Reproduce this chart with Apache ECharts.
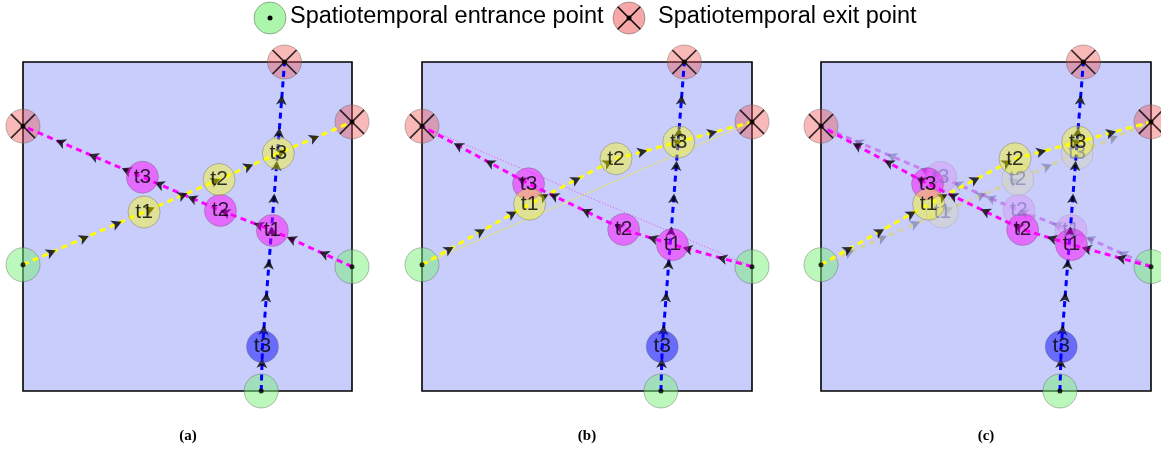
<!DOCTYPE html>
<html><head><meta charset="utf-8">
<script src="https://cdn.jsdelivr.net/npm/echarts@6/dist/echarts.min.js"></script>
<style>html,body{margin:0;padding:0;background:#fff}#c{width:1161px;height:452px}</style>
</head><body><div id="c"></div>
<script>
// ---------- data ----------
const captions = ['(a)', '(b)', '(c)'];
const pointLabels = ['t1', 't2', 't3'];
const legendLabels = ['Spatiotemporal entrance point', 'Spatiotemporal exit point'];
// entrance / exit points (box coordinates 0..100, y up)
const entranceLeft = [0, 38.4];
const entranceRight = [100, 37.8];
const entranceBottom = [72.4, 0];
const exitLeft = [0, 80.5];
const exitRight = [100, 81.8];
const exitTop = [79.5, 100];
// observed positions t1..t3, panel (a)
const yellowA = [[36.8, 54.4], [59.6, 64.3], [77.6, 72.2]];
const magentaA = [[75.8, 48.8], [60.0, 54.9], [36.3, 65.0]];
// adjusted positions t1..t3, panels (b) and (c)
const yellowBC = [[32.6, 56.8], [58.8, 70.6], [77.8, 75.7]];
const magentaBC = [[75.9, 44.5], [61.1, 49.1], [32.3, 63.0]];
// blue object at t3
const blueT3 = [72.8, 13.5];

// ---------- layout / style ----------
const gridBoxes = [[23, 62, 329, 329], [422, 62, 330, 329], [821, 62, 330, 329]];
const FONT = '"Liberation Sans", Arial, sans-serif';
const COL = {
  yellow: { line: '#ffff00', fill: 'rgba(255,255,0,0.5)' },
  magenta: { line: '#ff00ff', fill: 'rgba(255,0,255,0.6)' },
  blue: { line: '#0000ff', fill: 'rgba(0,0,255,0.6)' }
};
const GHOST = {
  yellow: { line: '#d2d2a6', fill: 'rgba(212,212,205,0.75)' },
  magenta: { line: '#c384f2', fill: 'rgba(214,160,250,0.7)' }
};
const DASH = [6, 4.5];
const XPATH = 'path://M47.5,0 L52.5,0 L52.5,47.5 L100,47.5 L100,52.5 L52.5,52.5 L52.5,100 L47.5,100 L47.5,52.5 L0,52.5 L0,47.5 L47.5,47.5 Z';

function arrowsAlong(path, n, gi) {
  const sx = gridBoxes[gi][2] / 100, sy = gridBoxes[gi][3] / 100;
  const seg = []; let total = 0;
  for (let i = 0; i < path.length - 1; i++) {
    const dx = path[i + 1][0] - path[i][0], dy = path[i + 1][1] - path[i][1];
    const L = Math.hypot(dx * sx, dy * sy);
    seg.push({ a: path[i], dx, dy, L, s: total }); total += L;
  }
  const out = [];
  for (let k = 1; k < n; k++) {
    const d = total * k / n;
    const s = seg.find(g => d >= g.s && d <= g.s + g.L) || seg[seg.length - 1];
    const f = (d - s.s) / s.L;
    out.push({ value: [s.a[0] + s.dx * f, s.a[1] + s.dy * f],
      symbolRotate: Math.atan2(s.dy * sy, s.dx * sx) * 180 / Math.PI - 90 });
  }
  return out;
}

const grids = [], xAxes = [], yAxes = [], series = [];
function ax(gi) { return { xAxisIndex: gi, yAxisIndex: gi }; }

function lineSeries(gi, data, color, width, type, z) {
  series.push(Object.assign({ type: 'line', data, symbol: 'none', showSymbol: false, clip: false, silent: true,
    animation: false, z, lineStyle: { color, width, type, cap: 'butt' } }, ax(gi)));
}
function arrowSeries(gi, data, color, z) {
  series.push(Object.assign({ type: 'scatter', data, symbol: 'arrow', symbolSize: [8, 10], clip: false, silent: true,
    animation: false, z, itemStyle: { color } }, ax(gi)));
}
function circleSeries(gi, pts, labels, fill, z, labelColor, border) {
  series.push(Object.assign({ type: 'scatter', clip: false, silent: true, animation: false, z,
    data: pts.map((p, i) => ({ value: p, name: labels[i] })), symbol: 'circle', symbolSize: 32,
    itemStyle: { color: fill, borderColor: border || 'rgba(110,110,110,0.55)', borderWidth: 1 } }, ax(gi)));
  series.push(Object.assign({ type: 'scatter', clip: false, silent: true, animation: false, z: z + 10,
    data: pts.map((p, i) => ({ value: p, name: labels[i] })), symbol: 'circle', symbolSize: 1,
    itemStyle: { color: 'rgba(0,0,0,0)' },
    label: { show: true, position: 'inside', formatter: '{b}', color: labelColor, fontSize: 21, fontFamily: FONT } }, ax(gi)));
}

for (let gi = 0; gi < 3; gi++) {
  const b = gridBoxes[gi];
  grids.push({ left: b[0], top: b[1], width: b[2], height: b[3], show: true,
    backgroundColor: '#c9cdfb', borderColor: '#000', borderWidth: 1.6 });
  xAxes.push({ type: 'value', gridIndex: gi, min: 0, max: 100, show: false });
  yAxes.push({ type: 'value', gridIndex: gi, min: 0, max: 100, show: false });

  const yel = gi === 0 ? yellowA : yellowBC;
  const mag = gi === 0 ? magentaA : magentaBC;
  const yPath = [entranceLeft, ...yel, exitRight];
  const mPath = [entranceRight, ...mag, exitLeft];
  const bPath = [entranceBottom, blueT3, exitTop];

  // entrance / exit circles
  series.push(Object.assign({ type: 'scatter', clip: false, silent: true, animation: false, z: 2,
    data: [entranceLeft, entranceRight, entranceBottom], symbolSize: 34,
    itemStyle: { color: 'rgba(120,240,120,0.62)', borderColor: 'rgba(90,90,90,0.5)', borderWidth: 1 } }, ax(gi)));
  series.push(Object.assign({ type: 'scatter', clip: false, silent: true, animation: false, z: 2,
    data: [exitLeft, exitRight, exitTop], symbolSize: 34,
    itemStyle: { color: 'rgba(240,80,80,0.5)', borderColor: 'rgba(90,90,90,0.5)', borderWidth: 1 } }, ax(gi)));

  if (gi === 1) {
    lineSeries(gi, [entranceLeft, exitRight], 'rgba(235,235,70,0.9)', 0.8, 'solid', 3);
    lineSeries(gi, [entranceRight, exitLeft], 'rgba(255,0,255,0.85)', 0.8, [1, 2], 3);
  }
  if (gi === 2) {
    const gy = [entranceLeft, ...yellowA, exitRight];
    const gm = [entranceRight, ...magentaA, exitLeft];
    lineSeries(gi, gy, GHOST.yellow.line, 3, DASH, 3);
    lineSeries(gi, gm, GHOST.magenta.line, 3, DASH, 3);
    arrowSeries(gi, arrowsAlong(gy, 10, gi), 'rgba(95,95,160,0.6)', 4);
    arrowSeries(gi, arrowsAlong(gm, 10, gi), 'rgba(95,95,160,0.6)', 4);
    circleSeries(gi, magentaA, pointLabels, GHOST.magenta.fill, 5, 'rgba(120,120,185,0.85)', 'rgba(150,150,170,0.4)');
    circleSeries(gi, yellowA, pointLabels, GHOST.yellow.fill, 5, 'rgba(120,125,175,0.85)', 'rgba(150,150,170,0.4)');
  }

  lineSeries(gi, yPath, COL.yellow.line, 3, DASH, 6);
  lineSeries(gi, mPath, COL.magenta.line, 3, DASH, 6);
  lineSeries(gi, bPath, COL.blue.line, 3, DASH, 6);
  arrowSeries(gi, arrowsAlong(yPath, 10, gi), '#000', 7);
  arrowSeries(gi, arrowsAlong(mPath, 10, gi), '#000', 7);
  arrowSeries(gi, arrowsAlong(bPath, 10, gi), '#000', 7);

  circleSeries(gi, mag, pointLabels, COL.magenta.fill, 8, '#000');
  circleSeries(gi, yel, pointLabels, COL.yellow.fill, 9, '#000');
  circleSeries(gi, [blueT3], ['t3'], COL.blue.fill, 9, '#000');

  // marks on entrance / exit points
  series.push(Object.assign({ type: 'scatter', clip: false, silent: true, animation: false, z: 30,
    data: [exitLeft, exitRight, exitTop], symbol: XPATH, symbolSize: 34, symbolRotate: 45,
    itemStyle: { color: '#000' } }, ax(gi)));
  series.push(Object.assign({ type: 'scatter', clip: false, silent: true, animation: false, z: 31,
    data: [entranceLeft, entranceRight, entranceBottom, exitLeft, exitRight, exitTop], symbolSize: 5,
    itemStyle: { color: '#000' } }, ax(gi)));
}

const graphic = [
  { type: 'circle', shape: { cx: 270, cy: 18, r: 16 }, style: { fill: 'rgba(120,240,120,0.62)', stroke: 'rgba(90,90,90,0.5)', lineWidth: 1 } },
  { type: 'circle', shape: { cx: 270, cy: 18, r: 2.5 }, style: { fill: '#000' } },
  { type: 'text', left: 290, top: 5, style: { text: legendLabels[0], fontSize: 23.5, fontFamily: FONT, fill: '#000' } },
  { type: 'circle', shape: { cx: 629, cy: 18, r: 16 }, style: { fill: 'rgba(240,80,80,0.5)', stroke: 'rgba(90,90,90,0.5)', lineWidth: 1 } },
  { type: 'line', shape: { x1: 617.7, y1: 6.7, x2: 640.3, y2: 29.3 }, style: { stroke: '#000', lineWidth: 1.5 } },
  { type: 'line', shape: { x1: 640.3, y1: 6.7, x2: 617.7, y2: 29.3 }, style: { stroke: '#000', lineWidth: 1.5 } },
  { type: 'circle', shape: { cx: 629, cy: 18, r: 2.5 }, style: { fill: '#000' } },
  { type: 'text', left: 658, top: 5, style: { text: legendLabels[1], fontSize: 23.5, fontFamily: FONT, fill: '#000' } }
];
const capX = [188, 587, 986];
captions.forEach((c, i) => graphic.push({ type: 'text', x: capX[i], y: 436,
  style: { text: c, fontSize: 15, fontWeight: 'bold', fontFamily: '"Liberation Serif", "Times New Roman", serif', fill: '#000', align: 'center', verticalAlign: 'middle' } }));

const chart = echarts.init(document.getElementById('c'));
chart.setOption({ animation: false, backgroundColor: '#fff', grid: grids, xAxis: xAxes, yAxis: yAxes, series, graphic });
</script>
</body></html>
